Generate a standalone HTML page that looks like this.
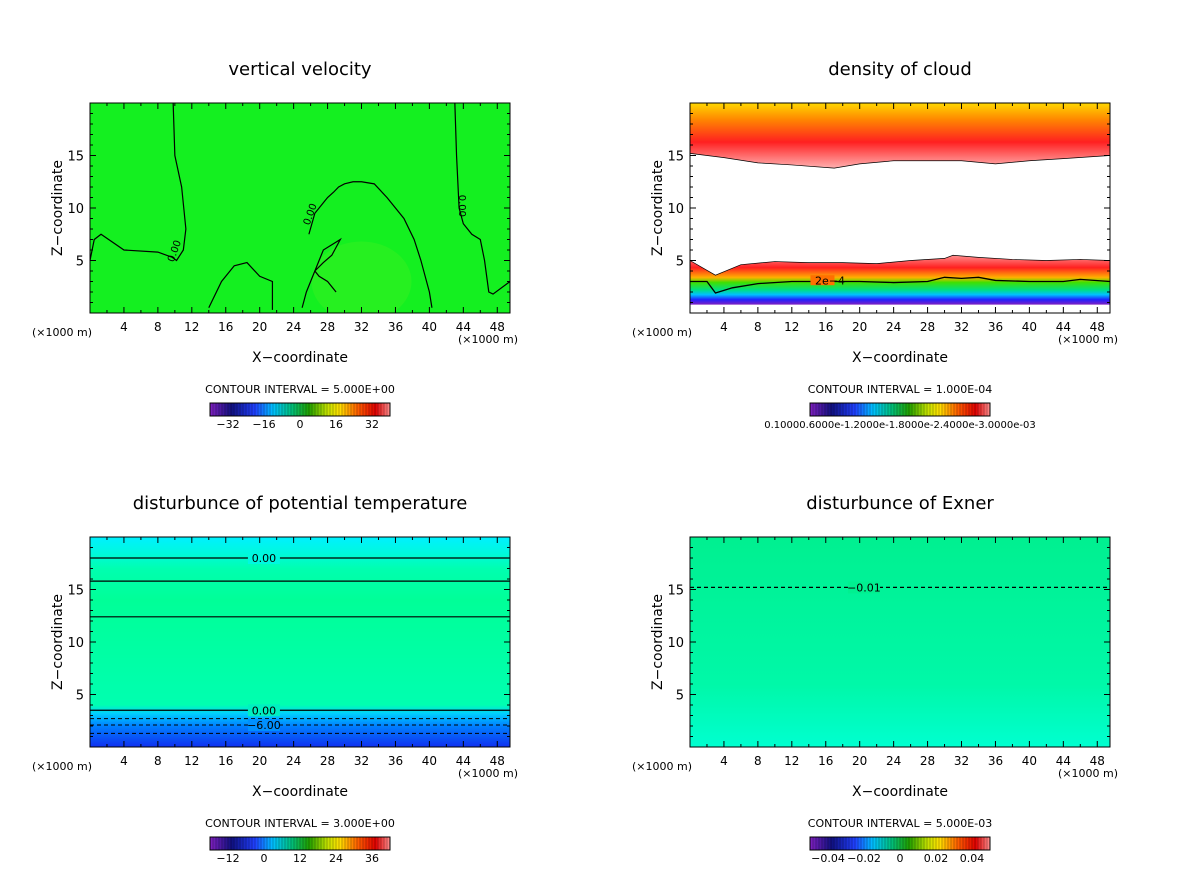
<!DOCTYPE html>
<html><head><meta charset="utf-8"><style>
body{margin:0;background:#fff;width:1200px;height:868px;overflow:hidden}
svg text{font-family:"DejaVu Sans","Liberation Sans",sans-serif;fill:#000}
</style></head><body>
<svg id="c" width="1200" height="868" xmlns="http://www.w3.org/2000/svg">
<defs>
<clipPath id="clipTL"><rect x="90" y="103" width="420" height="210"/></clipPath>
<linearGradient id="gTRtop" x1="0" y1="0" x2="0" y2="1">
<stop offset="0" stop-color="#ffd800"/><stop offset="0.25" stop-color="#ff8800"/><stop offset="0.6" stop-color="#ff2020"/><stop offset="1" stop-color="#ffb0b0"/></linearGradient>
<linearGradient id="gTRbot" x1="0" y1="0" x2="0" y2="1">
<stop offset="0" stop-color="#ff9090"/><stop offset="0.25" stop-color="#ff2020"/><stop offset="0.45" stop-color="#ffb000"/><stop offset="0.55" stop-color="#40e000"/><stop offset="0.7" stop-color="#00e080"/><stop offset="0.8" stop-color="#00c0ff"/><stop offset="0.9" stop-color="#2020ff"/><stop offset="1" stop-color="#8020c0"/></linearGradient>
<linearGradient id="gBL" x1="0" y1="0" x2="0" y2="1">
<stop offset="0" stop-color="#00f0ff"/><stop offset="0.07" stop-color="#00f8e0"/><stop offset="0.15" stop-color="#00ffb0"/><stop offset="0.3" stop-color="#00ff98"/><stop offset="0.8" stop-color="#00ffb0"/><stop offset="0.84" stop-color="#00d0ff"/><stop offset="0.9" stop-color="#0080ff"/><stop offset="1" stop-color="#1030f0"/></linearGradient>
<linearGradient id="gBR" x1="0" y1="0" x2="0" y2="1">
<stop offset="0" stop-color="#00f090"/><stop offset="0.7" stop-color="#00f8a8"/><stop offset="1" stop-color="#00ffd0"/></linearGradient>
<linearGradient id="gCB" x1="0" y1="0" x2="1" y2="0">
<stop offset="0" stop-color="#8020c0"/><stop offset="0.12" stop-color="#101080"/><stop offset="0.25" stop-color="#2040ff"/><stop offset="0.35" stop-color="#00c0ff"/><stop offset="0.45" stop-color="#00c080"/><stop offset="0.55" stop-color="#20a000"/><stop offset="0.65" stop-color="#c0e000"/><stop offset="0.72" stop-color="#ffe000"/><stop offset="0.82" stop-color="#ff6000"/><stop offset="0.92" stop-color="#e00000"/><stop offset="1" stop-color="#ff9090"/></linearGradient>
</defs>
</svg>
<script>
const xTicks=[4,8,12,16,20,24,28,32,36,40,44,48];
const zTicks=[5,10,15];
const titles=["vertical velocity","density of cloud","disturbunce of potential temperature","disturbunce of Exner"];
const intervals=["CONTOUR INTERVAL = 5.000E+00","CONTOUR INTERVAL = 1.000E-04","CONTOUR INTERVAL = 3.000E+00","CONTOUR INTERVAL = 5.000E-03"];
const cbLabels=[[-32,-16,0,16,32],["0.10000.6000e-1.2000e-1.8000e-2.4000e-3.0000e-03"],[-12,0,12,24,36],[-0.04,-0.02,0,0.02,0.04]];
const cbRange=[[-40,40],[0,1],[-18,42],[-0.05,0.05]];
const wLine1x=[0,0.5,1.3,4,8,9.7,10.2,11,11.3,10.8,10,9.8];
const wLine1z=[5,7,7.5,6,5.8,5.3,5,6,8,12,15,20];
const wLine2x=[25.8,26.5,27.5,28,28.7,29.3,30,31,32,33.5,35,37,38.2,39,39.5,40,40.3];
const wLine2z=[7.5,9.5,10.5,11,11.5,12,12.3,12.5,12.5,12.3,11,9,7,5,3.5,2,0.5];
const wLine3x=[43,43.2,43.5,44,45,46,46.5,47,47.5,49.5];
const wLine3z=[20,15,10,8.5,7.5,7,5,2,1.8,3];
const wHillx=[14,15.5,17,18.5,20,21.5,21.5];
const wHilly=[0.5,3,4.5,4.8,3.5,3,0.3];
const wPlumex=[25,25.5,26.5,27,27.5,28.5,29.5,28.5,27.5,26.5,27,28,29];
const wPlumez=[0.5,2,4,5,6,6.5,7,5.5,4.8,4,3.5,3,2];
const cTopx=[0,4,8,12,17,20,24,28,32,36,40,44,49.5];
const cTopz=[15.2,14.8,14.3,14.1,13.8,14.2,14.5,14.5,14.5,14.2,14.5,14.7,15];
const c2ex=[0,2,3,5,8,12,16,20,24,28,30,32,34,36,40,44,46,49.5];
const c2ez=[3,3,1.9,2.4,2.8,3,3,3,2.9,3,3.4,3.3,3.4,3.1,3,3,3.2,3];
const cBotx=[0,3,6,10,14,18,22,26,30,31,34,38,42,46,49.5];
const cBotz=[5,3.6,4.6,4.9,4.8,4.8,4.7,5,5.2,5.5,5.3,5.1,5,5.1,5];
const thLevels=[18,15.8,12.4,3.5];
const thDash=[2.7,2.1,1.3];
const exDash=[15.2];
const svg=document.getElementById('c');
const NS='http://www.w3.org/2000/svg';
function mk(tag,attrs,parent){const e=document.createElementNS(NS,tag);for(const k in attrs)e.setAttribute(k,attrs[k]);(parent||svg).appendChild(e);return e;}
function txt(s,x,y,size,anchor,parent){const t=mk('text',{x:x,y:y,'font-size':size,'text-anchor':anchor||'middle'},parent);t.textContent=s;return t;}
const W=420,H=210,XMAX=49.5,ZMAX=20;
const panels=[[90,103],[690,103],[90,537],[690,537]];
panels.forEach((p,i)=>{
 const [ox,oy]=p;
 const g=mk('g',{});
 
 
 const sx=x=>ox+x/XMAX*W, sz=z=>oy+H-z/ZMAX*H;
 const t=txt(titles[i],ox+210,oy-28,18,'middle',g);
 
 
 if(i===0){mk('rect',{x:ox,y:oy,width:W,height:H,fill:'#14f020'},g);mk('ellipse',{cx:sx(32),cy:sz(3),rx:50,ry:40,fill:'#40f020',opacity:0.4,'clip-path':'url(#clipTL)'},g);}
 if(i===1){mk('rect',{x:ox,y:oy,width:W,height:H,fill:'#fff'},g);
  let d='M'+ox+','+oy+' L'+(ox+W)+','+oy;for(let k=cTopx.length-1;k>=0;k--)d+=' L'+sx(cTopx[k])+','+sz(cTopz[k]);mk('path',{d:d+'Z',fill:'url(#gTRtop)'},g);
  d='M'+sx(cBotx[0])+','+sz(cBotz[0]);for(let k=1;k<cBotx.length;k++)d+=' L'+sx(cBotx[k])+','+sz(cBotz[k]);d+=' L'+(ox+W)+','+sz(0.8)+' L'+ox+','+sz(0.8)+'Z';
  mk('path',{d:d,fill:'url(#gTRbot)'},g);}
 if(i===2)mk('rect',{x:ox,y:oy,width:W,height:H,fill:'url(#gBL)'},g);
 if(i===3)mk('rect',{x:ox,y:oy,width:W,height:H,fill:'url(#gBR)'},g);
 function line(xs,zs,dash,w){let d='';xs.forEach((x,k)=>d+=(k?' L':'M')+sx(x)+','+sz(zs[k]));const e=mk('path',{d:d,fill:'none',stroke:'#000','stroke-width':w||1.2},g);if(dash)e.setAttribute('stroke-dasharray','4,3');return e;}
 if(i===0){line(wLine1x,wLine1z);line(wLine2x,wLine2z);line(wLine3x,wLine3z);line(wHillx,wHilly);line(wPlumex,wPlumez);
  txt('0.00',sx(10.3),sz(5.8),10,'middle',g).setAttribute('transform','rotate(-70 '+sx(10.3)+' '+sz(5.8)+')');
  txt('0.00',sx(26.3),sz(9.3),10,'middle',g).setAttribute('transform','rotate(-70 '+sx(26.3)+' '+sz(9.3)+')');
  txt('0.00',sx(43.5),sz(10.2),10,'middle',g).setAttribute('transform','rotate(90 '+sx(43.5)+' '+sz(10.2)+')');}
 if(i===1){line(cTopx,cTopz,false,0.7);line(cBotx,cBotz,false,0.7);line(c2ex,c2ez,false,1.3);
  mk('rect',{x:sx(14.2),y:sz(3.6),width:24,height:10,fill:'#ff7000'},g);txt('2e−4',sx(16.5),sz(2.7),11,'middle',g);}
 if(i===2){thLevels.forEach(z=>line([0,XMAX],[z,z]));thDash.forEach(z=>line([0,XMAX],[z,z],true,1));
  [[18,'0.00'],[3.5,'0.00'],[2.1,'−6.00']].forEach(([z,s])=>{mk('rect',{x:sx(20.5)-16,y:sz(z)-6,width:32,height:12,fill:z>10?'#00f8e0':z>3?'#00f0c0':'#0090ff'},g);txt(s,sx(20.5),sz(z)+4,11,'middle',g);});}
 if(i===3){exDash.forEach(z=>line([0,XMAX],[z,z],true,1.2));mk('rect',{x:sx(20.5)-16,y:sz(15.2)-6,width:32,height:12,fill:'#00f090'},g);txt('−0.01',sx(20.5),sz(15.2)+4,11,'middle',g);}
 mk('rect',{x:ox,y:oy,width:W,height:H,fill:'none',stroke:'#000','stroke-width':1},g);
 for(let x=2;x<=48;x+=2){const L=x%4===0?6:3;mk('line',{x1:sx(x),x2:sx(x),y1:oy+H,y2:oy+H-L,stroke:'#000'},g);mk('line',{x1:sx(x),x2:sx(x),y1:oy,y2:oy+L,stroke:'#000'},g);}
 for(let z=1;z<20;z++){const L=z%5===0?6:3;mk('line',{x1:ox,x2:ox+L,y1:sz(z),y2:sz(z),stroke:'#000'},g);mk('line',{x1:ox+W,x2:ox+W-L,y1:sz(z),y2:sz(z),stroke:'#000'},g);}
 xTicks.forEach(x=>{const e=txt(x,sx(x),oy+H+18,12,'middle',g);});
 zTicks.forEach(z=>{const e=txt(z,ox-6,sz(z)+5,13,'end',g);});
 txt('(×1000 m)',ox-58,oy+H+23,11,'start',g);
 txt('(×1000 m)',ox+W+8,oy+H+30,11,'end',g);
 const xl=txt('X−coordinate',ox+210,oy+H+49,14,'middle',g);
 const zl=txt('Z−coordinate',0,0,14,'middle',g);zl.setAttribute('transform','translate('+(ox-28)+','+(oy+105)+') rotate(-90)');
 txt(intervals[i],ox+210,oy+H+80,11,'middle',g);
 const cb=mk('g',{},g);
 const cx0=ox+120,cw=180,cy=oy+H+90;
 mk('rect',{x:cx0,y:cy,width:cw,height:13,fill:'url(#gCB)',stroke:'#000'},cb);
 for(let k=1;k<60;k++)mk('line',{x1:cx0+k*3,x2:cx0+k*3,y1:cy,y2:cy+13,stroke:'#000','stroke-width':0.5,opacity:0.5},cb);
 const [a,b]=cbRange[i];
 if(i===1)txt(cbLabels[1][0],cx0+90,cy+25,10,'middle',cb);
 else cbLabels[i].forEach(v=>txt(String(v).replace('-','−'),cx0+(v-a)/(b-a)*cw,cy+25,11,'middle',cb));
});
</script>
</body></html>
